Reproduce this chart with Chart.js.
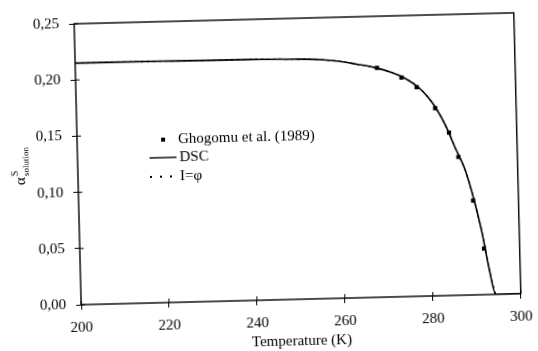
<!DOCTYPE html>
<html>
<head>
<meta charset="utf-8">
<script src="https://cdn.jsdelivr.net/npm/chart.js@4"></script>
<style>
    html, body { margin: 0; padding: 0; background: #fff; overflow: hidden; }
    #wrap { width: 538px; height: 351px; transform: rotate(-1.43deg); transform-origin: 50% 50%; }
</style>
</head>
<body>
<div id="wrap"><canvas id="myChart" width="538" height="351"></canvas></div>
<script>
// Ghogomu et al. (1989) measurements
const ghTemp = [268.6, 274.1, 277.5, 281.6, 284.6, 286.6, 289.7, 291.9];
const ghAlpha = [0.204, 0.195, 0.186, 0.167, 0.145, 0.123, 0.084, 0.041];

// DSC curve
const dscTemp = [200, 220, 240, 250, 256, 260, 264, 268, 272, 275, 278, 280, 282, 284, 286, 288, 290, 291.5, 293, 294.3, 300];
const dscAlpha = [0.215, 0.2148, 0.2143, 0.2137, 0.2126, 0.2108, 0.2078, 0.2045, 0.1995, 0.194, 0.1855, 0.177, 0.1655, 0.150, 0.1305, 0.112, 0.083, 0.056, 0.022, 0, 0];

// I=phi curve (lies under the DSC curve)
const iphiTemp = [200, 220, 240, 250, 256, 260, 264, 268, 272, 275, 278, 280, 282, 284, 286, 288, 290, 291.5, 293, 294.3];
const iphiAlpha = [0.215, 0.2148, 0.2143, 0.2137, 0.2126, 0.2108, 0.2078, 0.2045, 0.1995, 0.194, 0.1855, 0.177, 0.1655, 0.150, 0.1305, 0.112, 0.083, 0.056, 0.022, 0];

const xTicks = [200, 220, 240, 260, 280, 300];
const yTicks = [0, 0.05, 0.10, 0.15, 0.20, 0.25];

const serif = "'Liberation Serif', 'DejaVu Serif', serif";

function toPoints(xs, ys) {
    return xs.map((x, i) => ({ x: x, y: ys[i] }));
}

// box around the plot + inner half of the crossing ticks
const boxPlugin = {
    id: 'box',
    afterDraw(chart) {
        const ctx = chart.ctx;
        const a = chart.chartArea;
        ctx.save();
        ctx.strokeStyle = '#000';
        ctx.lineWidth = 1.4;
        ctx.strokeRect(a.left, a.top, a.right - a.left, a.bottom - a.top);
        ctx.lineWidth = 1;
        xTicks.forEach((t) => {
            let px = chart.scales.x.getPixelForValue(t);
            ctx.beginPath();
            ctx.moveTo(px, a.bottom);
            ctx.lineTo(px, a.bottom - 4);
            ctx.stroke();
        });
        yTicks.forEach((t) => {
            let py = chart.scales.y.getPixelForValue(t);
            ctx.beginPath();
            ctx.moveTo(a.left, py);
            ctx.lineTo(a.left + 4, py);
            ctx.stroke();
        });
        ctx.restore();
    }
};

// legend inside the plot and the y axis title with super/subscript
const notesPlugin = {
    id: 'notes',
    afterDraw(chart) {
        const ctx = chart.ctx;
        const ds = chart.data.datasets;
        ctx.save();
        ctx.fillStyle = '#000';
        ctx.strokeStyle = '#000';
        ctx.font = '15px ' + serif;
        ctx.textBaseline = 'middle';
        ctx.textAlign = 'left';

        // row 1: marker
        ctx.fillRect(162, 135, 4, 4);
        ctx.fillText(ds[0].label, 179, 137);

        // row 2: solid line
        ctx.lineWidth = 1.4;
        ctx.beginPath();
        ctx.moveTo(150, 155);
        ctx.lineTo(177, 155);
        ctx.stroke();
        ctx.fillText(ds[1].label, 180, 155);

        // row 3: dotted line
        ctx.setLineDash([2, 8]);
        ctx.lineWidth = 1.8;
        ctx.beginPath();
        ctx.moveTo(150, 174);
        ctx.lineTo(177, 174);
        ctx.stroke();
        ctx.setLineDash([]);
        ctx.fillText(ds[2].label, 180, 174);

        // y title
        ctx.translate(21, 158);
        ctx.rotate(-Math.PI / 2);
        ctx.font = '15px ' + serif;
        ctx.textBaseline = 'alphabetic';
        ctx.fillText('\u03b1', -21, 4);
        ctx.font = '10px ' + serif;
        ctx.fillText('S', -12, -3);
        ctx.font = '9px ' + serif;
        ctx.fillText('solution', -12, 8);
        ctx.restore();
    }
};

const ctx = document.getElementById('myChart').getContext('2d');
const myChart = new Chart(ctx, {
    type: 'line',
    data: {
        datasets: [{
                label: 'Ghogomu et al. (1989)',
                data: toPoints(ghTemp, ghAlpha),
                showLine: false,
                pointStyle: 'rect',
                pointRadius: 3,
                pointBackgroundColor: '#000',
                pointBorderColor: '#000',
                pointBorderWidth: 0,
                order: 0
            },
            {
                label: 'DSC',
                data: toPoints(dscTemp, dscAlpha),
                borderColor: '#000',
                borderWidth: 1.6,
                pointRadius: 0,
                cubicInterpolationMode: 'monotone',
                order: 2
            },
            {
                label: 'I=\u03c6',
                data: toPoints(iphiTemp, iphiAlpha),
                borderColor: '#000',
                borderWidth: 1.3,
                borderDash: [2, 4],
                pointRadius: 0,
                cubicInterpolationMode: 'monotone',
                order: 1
            }
        ]
    },
    options: {
        responsive: false,
        animation: false,
        layout: {
            padding: { top: 18, right: 19, left: 0, bottom: 0 }
        },
        plugins: {
            legend: { display: false },
            tooltip: { enabled: false }
        },
        scales: {
            x: {
                type: 'linear',
                min: 200,
                max: 300,
                afterFit: (s) => { s.height = 51; },
                afterBuildTicks: (s) => { s.ticks = xTicks.map((v) => ({ value: v })); },
                grid: { drawOnChartArea: false, tickLength: 5, color: '#000' },
                border: { display: false },
                ticks: {
                    padding: 9,
                    color: '#000',
                    font: { family: serif, size: 15 },
                    maxRotation: 0
                },
                title: {
                    display: true,
                    text: 'Temperature (K)',
                    color: '#000',
                    font: { family: serif, size: 15 },
                    padding: 0
                }
            },
            y: {
                min: 0,
                max: 0.25,
                afterFit: (s) => { s.width = 78; },
                afterBuildTicks: (s) => { s.ticks = yTicks.map((v) => ({ value: v })); },
                grid: { drawOnChartArea: false, tickLength: 5, color: '#000' },
                border: { display: false },
                ticks: {
                    padding: 10,
                    color: '#000',
                    font: { family: serif, size: 15 },
                    callback: (v) => v.toFixed(2).replace('.', ',')
                }
            }
        }
    },
    plugins: [boxPlugin, notesPlugin]
});
</script>
</body>
</html>
